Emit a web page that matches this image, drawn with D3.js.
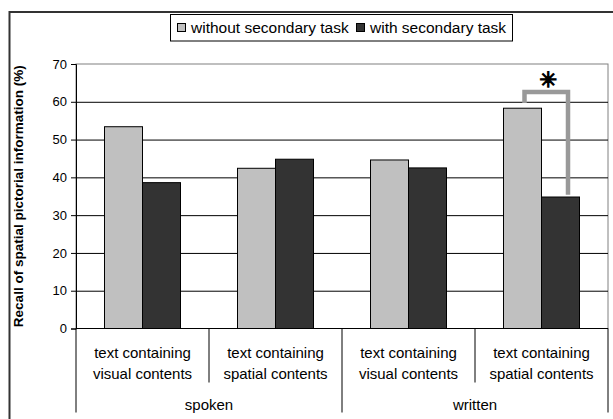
<!DOCTYPE html>
<html>
<head>
<meta charset="utf-8">
<script src="https://cdn.jsdelivr.net/npm/d3@7"></script>
<style>
  body { margin: 0; background: #fff; }
  svg { display: block; font-family: "Liberation Sans", Arial, sans-serif; }
</style>
</head>
<body>
<svg id="chart"></svg>
<script>
// data
const series = ["without secondary task", "with secondary task"];
const colors = ["#c0c0c0", "#333333"];
const catLines = [
    ["text containing", "visual contents"],
    ["text containing", "spatial contents"],
    ["text containing", "visual contents"],
    ["text containing", "spatial contents"]
];
const groups = ["spoken", "written"];
const withoutTask = [53.4, 42.4, 44.6, 58.3];
const withTask = [38.6, 44.8, 42.5, 34.8];
const yTicks = [0, 10, 20, 30, 40, 50, 60, 70];
// significance bracket: category index, left leg bottom, top, right leg bottom
const sigCat = 3;
const sigLevels = [59.7, 62.6, 35.4];

let svgWidth = 613, svgHeight = 419;
let margin = { top: 64, right: 5, bottom: 90.5, left: 76 };
let width = svgWidth - margin.left - margin.right;
let height = svgHeight - margin.top - margin.bottom;

let svg = d3.select("#chart")
    .attr("width", svgWidth)
    .attr("height", svgHeight);

// outer frame (only left + top visible)
svg.append("rect")
    .attr("x", 9.5).attr("y", 12)
    .attr("width", 640).attr("height", 440)
    .attr("fill", "none")
    .attr("stroke", "#333")
    .attr("stroke-width", 2);

let g = svg.append("g")
    .attr("transform", "translate(" + margin.left + "," + margin.top + ")");

let x0 = d3.scaleBand().domain(d3.range(4)).range([0, width]).padding(0);
let x1 = d3.scaleBand().domain([0, 1]).range([0, x0.bandwidth()]).paddingInner(0).paddingOuter(0.75);
let xg = d3.scaleBand().domain(groups).range([0, width]).padding(0);
let y = d3.scaleLinear().domain([0, 70]).range([height, 0]);

// plot frame
g.append("rect")
    .attr("width", width).attr("height", height)
    .attr("fill", "none")
    .attr("stroke", "#808080");

// gridlines
g.append("g")
    .call(d3.axisLeft(y).tickValues(yTicks.slice(1, -1)).tickSize(-width).tickFormat(""))
    .call(s => s.select(".domain").remove())
    .selectAll("line").attr("stroke", "#000");

// y axis
let yAxis = g.append("g")
    .call(d3.axisLeft(y).tickValues(yTicks).tickSize(5).tickPadding(4));
yAxis.select(".domain").attr("stroke", "#000");
yAxis.selectAll("text")
    .attr("font-size", "13px")
    .attr("font-family", "'Liberation Sans', Arial, sans-serif")
    .attr("fill", "#000");

// bars
let data = d3.range(4).map(i => [withoutTask[i], withTask[i]]);
g.append("g").selectAll("g")
    .data(data)
    .join("g")
    .attr("transform", (d, i) => "translate(" + x0(i) + ",0)")
    .selectAll("rect")
    .data(d => d)
    .join("rect")
    .attr("x", (d, j) => x1(j))
    .attr("y", d => y(d))
    .attr("width", x1.bandwidth())
    .attr("height", d => height - y(d))
    .attr("fill", (d, j) => colors[j])
    .attr("stroke", "#000")
    .attr("stroke-width", 1);

// x axis line
g.append("line")
    .attr("x1", 0).attr("x2", width)
    .attr("y1", height).attr("y2", height)
    .attr("stroke", "#000");

// category dividers
let dividers = d3.range(5).map(i => i * x0.step());
g.selectAll(".div")
    .data(dividers)
    .join("line")
    .attr("x1", d => d).attr("x2", d => d)
    .attr("y1", height)
    .attr("y2", (d, i) => (i % 2 === 0 ? height + 84 : height + 54))
    .attr("stroke", "#000");

// category labels
let catText = g.append("g")
    .selectAll("text")
    .data(catLines)
    .join("text")
    .attr("text-anchor", "middle")
    .attr("font-size", "15px")
    .attr("fill", "#000");
catText.selectAll("tspan")
    .data((d, i) => d.map(t => ({ t: t, i: i })))
    .join("tspan")
    .attr("x", d => x0(d.i) + x0.bandwidth() / 2)
    .attr("y", (d, k) => height + 29 + k * 21)
    .text(d => d.t);

g.append("g")
    .selectAll("text")
    .data(groups)
    .join("text")
    .attr("x", d => xg(d) + xg.bandwidth() / 2)
    .attr("y", height + 81.5)
    .attr("text-anchor", "middle")
    .attr("font-size", "15px")
    .attr("fill", "#000")
    .text(d => d);

// y title
svg.append("text")
    .attr("transform", "translate(" + 23 + "," + (margin.top + height / 2) + ") rotate(-90)")
    .attr("text-anchor", "middle")
    .attr("font-size", "13.5px")
    .attr("font-weight", "bold")
    .attr("fill", "#000")
    .text("Recall of spatial pictorial information (%)");

// significance bracket
let bx = x0(sigCat);
let leftX = bx + x1(0) + 21;
let rightX = bx + x1(1) + 26.5;
g.append("path")
    .attr("d", d3.line()([
        [leftX, y(sigLevels[0])],
        [leftX, y(sigLevels[1])],
        [rightX, y(sigLevels[1])],
        [rightX, y(sigLevels[2])]
    ]))
    .attr("fill", "none")
    .attr("stroke", "#999")
    .attr("stroke-width", 4.5);

g.append("text")
    .attr("x", (leftX + rightX) / 2 + 2)
    .attr("y", y(sigLevels[1]) - 5)
    .attr("text-anchor", "middle")
    .attr("font-family", "DejaVu Sans")
    .attr("font-size", "21px")
    .attr("font-weight", "bold")
    .attr("fill", "#000")
    .attr("stroke", "#000")
    .attr("stroke-width", 1.3)
    .text("\u2733");

// legend
let legend = svg.append("g");
legend.append("rect")
    .attr("x", 170.5).attr("y", 14.5)
    .attr("width", 342).attr("height", 26.5)
    .attr("fill", "#fff")
    .attr("stroke", "#000");
let legX = [177, 356];
series.forEach(function (s, i) {
    legend.append("rect")
        .attr("x", legX[i] + 0.5).attr("y", 23.5)
        .attr("width", 8).attr("height", 8)
        .attr("fill", colors[i])
        .attr("stroke", "#000");
    legend.append("text")
        .attr("x", legX[i] + 14)
        .attr("y", 33)
        .attr("font-size", "15.5px")
        .attr("fill", "#000")
        .text(s);
});
</script>
</body>
</html>
